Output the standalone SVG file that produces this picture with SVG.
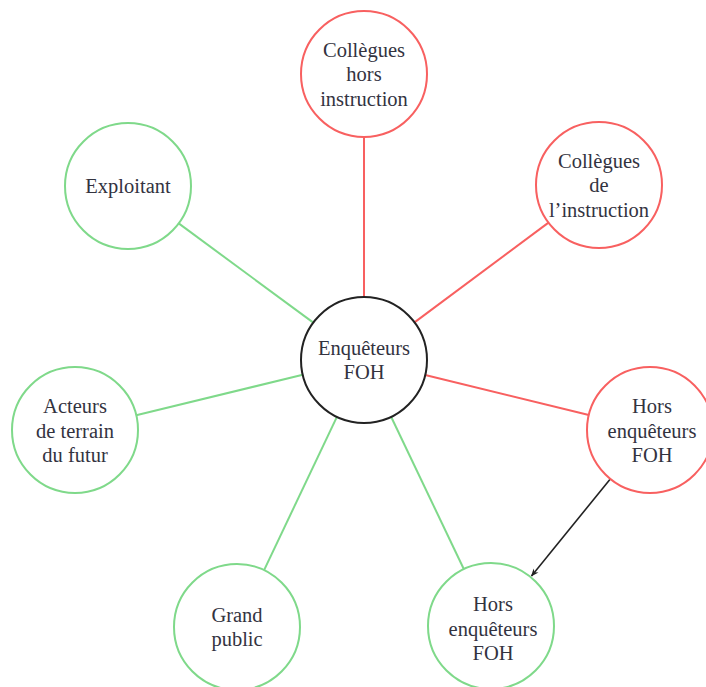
<svg xmlns="http://www.w3.org/2000/svg" width="706" height="687" viewBox="0 0 706 687">
<defs>
<style>
.n{fill:#ffffff;stroke-width:2}
.red{stroke:#f86060}
.green{stroke:#7fd98a}
.black{stroke:#222222}
text{font-family:'Liberation Serif','Times New Roman',serif;font-size:20.5px;fill:#33333f;text-anchor:middle;dominant-baseline:central}
.e{fill:none;stroke-width:2}
</style>
<marker id="arr" viewBox="0 0 10 10" refX="9" refY="5" markerWidth="8" markerHeight="8" markerUnits="userSpaceOnUse" orient="auto">
<path d="M0,1 L10,5 L0,9 L3,5 Z" fill="#222222"/>
</marker>
</defs>
<rect width="706" height="687" fill="#ffffff"/>
<g id="connectors">
<line class="e red" x1="364" y1="297" x2="364" y2="137"/>
<line class="e red" x1="414.5" y1="322.4" x2="548.5" y2="222.6"/>
<line class="e red" x1="425.2" y1="375" x2="588.8" y2="415"/>
<line class="e green" x1="313.3" y1="322.6" x2="178.7" y2="223.4"/>
<line class="e green" x1="302.8" y1="374.8" x2="136.2" y2="415.2"/>
<line class="e green" x1="336.9" y1="416.9" x2="264.1" y2="570.1"/>
<line class="e green" x1="391.1" y1="416.8" x2="463.9" y2="569.2"/>
<line x1="610.3" y1="479" x2="531.5" y2="576" stroke="#222222" stroke-width="1.6" marker-end="url(#arr)"/>
</g>
<g id="center">
<circle class="n black" cx="364" cy="360" r="63"/>
<text x="364" y="348">Enquêteurs</text>
<text x="364" y="372">FOH</text>
</g>
<g id="colleguesHors">
<circle class="n red" cx="364" cy="74" r="63"/>
<text x="364" y="49.5">Collègues</text>
<text x="364" y="74">hors</text>
<text x="364" y="98.5">instruction</text>
</g>
<g id="colleguesInstruction">
<circle class="n red" cx="599" cy="185" r="63"/>
<text x="599" y="160.5">Collègues</text>
<text x="599" y="185">de</text>
<text x="599" y="209.5">l’instruction</text>
</g>
<g id="horsRed">
<circle class="n red" cx="650" cy="430" r="63"/>
<text x="652" y="406">Hors</text>
<text x="652" y="430.5">enquêteurs</text>
<text x="652" y="455">FOH</text>
</g>
<g id="exploitant">
<circle class="n green" cx="128" cy="186" r="63"/>
<text x="128" y="186">Exploitant</text>
</g>
<g id="acteurs">
<circle class="n green" cx="75" cy="430" r="63"/>
<text x="75" y="406">Acteurs</text>
<text x="75" y="430.5">de terrain</text>
<text x="75" y="455">du futur</text>
</g>
<g id="grandPublic">
<circle class="n green" cx="237" cy="627" r="63"/>
<text x="237" y="615">Grand</text>
<text x="237" y="639">public</text>
</g>
<g id="horsGreen">
<circle class="n green" cx="491" cy="626" r="63"/>
<text x="493" y="604">Hors</text>
<text x="493" y="628.5">enquêteurs</text>
<text x="493" y="653">FOH</text>
</g>
</svg>
